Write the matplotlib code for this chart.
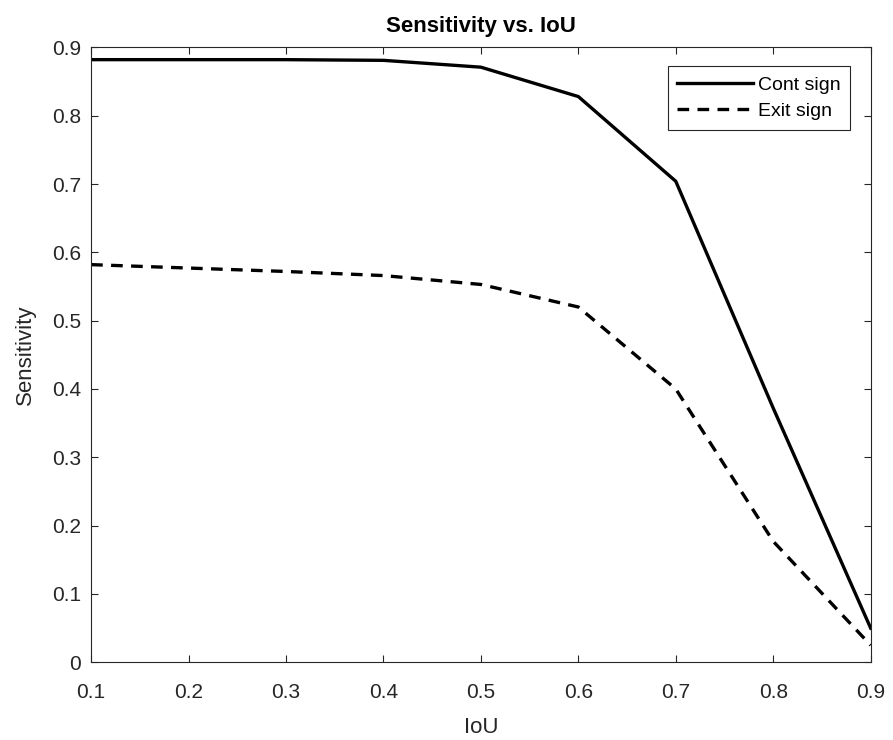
import numpy as np
import matplotlib
matplotlib.use('Agg')
import matplotlib.pyplot as plt

plt.rcParams['font.family'] = ['Liberation Sans', 'DejaVu Sans']

iou = [0.1, 0.2, 0.3, 0.4, 0.5, 0.6, 0.7, 0.8, 0.9]
cont_sign = [0.882, 0.882, 0.882, 0.881, 0.871, 0.828, 0.704, 0.372, 0.05]
exit_sign = [0.582, 0.577, 0.572, 0.566, 0.553, 0.52, 0.40, 0.177, 0.025]

fig = plt.figure(figsize=(8.93, 7.4), dpi=100)
ax = fig.add_axes([0.102, 0.105, 0.873, 0.831])

ax.plot(iou, cont_sign, color='black', linewidth=2.4, linestyle='-', label='Cont sign')
ax.plot(iou, exit_sign, color='black', linewidth=2.4, linestyle=(0, (3.5, 2.5)), label='Exit sign')

ax.set_xlim(0.1, 0.9)
ax.set_ylim(0, 0.9)
ax.set_xticks(np.arange(0.1, 0.91, 0.1))
ax.set_yticks(np.arange(0, 0.91, 0.1))
ax.set_xticklabels(['0.1', '0.2', '0.3', '0.4', '0.5', '0.6', '0.7', '0.8', '0.9'])
ax.set_yticklabels(['0', '0.1', '0.2', '0.3', '0.4', '0.5', '0.6', '0.7', '0.8', '0.9'])
ax.tick_params(direction='in', length=5, width=0.8, labelsize=15, colors='#262626',
               top=True, right=True)
ax.tick_params(axis='x', pad=15)
ax.tick_params(axis='y', pad=7)
for s in ax.spines.values():
    s.set_color('#262626')
    s.set_linewidth(0.8)

ax.set_xlabel('IoU', fontsize=16, color='#262626', labelpad=11)
ax.set_ylabel('Sensitivity', fontsize=16, color='#262626', labelpad=12)
ax.set_title('Sensitivity vs. IoU', fontsize=16, fontweight='bold', pad=11)

leg = ax.legend(loc='upper right', bbox_to_anchor=(0.974, 0.969), fontsize=14,
                fancybox=False, edgecolor='#262626', handlelength=3.9,
                handletextpad=0.25, borderpad=0.5, labelspacing=0.45,
                borderaxespad=0, framealpha=1)
leg.get_frame().set_linewidth(0.8)

fig.savefig('out.png', dpi=100)
